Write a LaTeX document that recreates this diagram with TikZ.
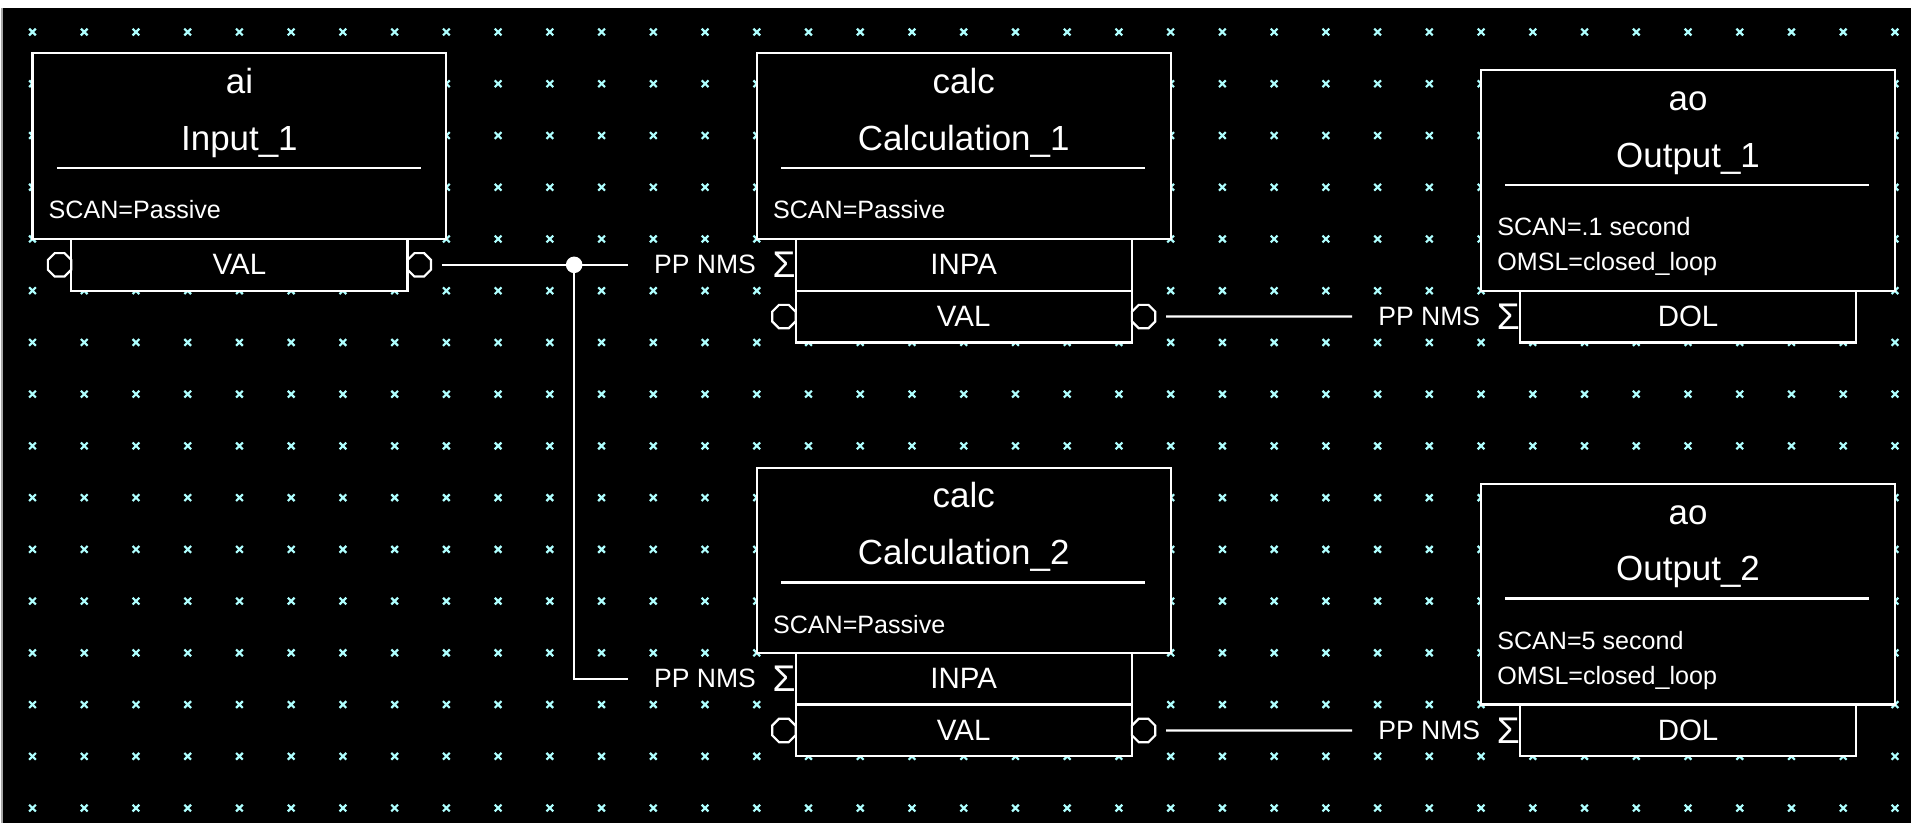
\documentclass[tikz,border=0pt]{standalone}
\usepackage{fontspec}
\setmainfont{Liberation Sans}
\usepackage{xcolor}
\usepackage{tikz}
\usetikzlibrary{positioning, shapes.geometric, calc}

\definecolor{gridmark}{RGB}{175,255,255}

\begin{document}
\begin{tikzpicture}[
    x=0.5cm, y=-0.5cm,
    every node/.style={text=white},
    recbox/.style={draw=white, fill=black, line width=0.6pt, outer sep=0pt, minimum width=4cm, anchor=south},
    fieldbox/.style={draw=white, fill=black, line width=0.6pt, outer sep=0pt, inner sep=0pt, minimum width=3.25cm, minimum height=0.5cm, font=\fontsize{8.1}{9}\selectfont},
    port/.style={regular polygon, regular polygon sides=8, draw=white, line width=0.6pt, minimum size=0.245cm, inner sep=0pt, outer sep=0pt},
    sigma/.style={font=\fontsize{10.2}{11}\selectfont, inner sep=0pt, outer sep=0pt},
    ppnms/.style={font=\fontsize{7.3}{8}\selectfont, inner sep=1pt},
    rectype/.style={font=\fontsize{9.6}{11}\selectfont, anchor=base, inner sep=0pt},
    attr/.style={font=\fontsize{6.9}{8}\selectfont, anchor=base west, inner sep=0pt},
    wire/.style={draw=white, line width=0.6pt},
    joint/.style={circle, fill=white, inner sep=0pt, minimum size=0.16cm}
  ]
  % canvas
  \useasboundingbox (-0.628,-0.619) rectangle (36.31,15.29);
  \fill[white] (-0.628,-0.619) rectangle (36.31,15.29);
  \fill[black] (-0.58,-0.464) rectangle (36.31,15.29);
  \draw[black!35, line width=0.4pt] (-0.59,-0.464) -- (-0.59,15.29);
  \foreach \gx in {0,...,36}
    \foreach \gy in {0,...,15}
      \draw[gridmark, line width=0.6pt] (\gx-0.065,\gy-0.065) -- (\gx+0.065,\gy+0.065)
        (\gx-0.065,\gy+0.065) -- (\gx+0.065,\gy-0.065);

  % ai record
  \node[recbox, minimum height=1.795cm] (in1) at (4,4) {};
  \node[rectype] (in1type) at ($(in1.north)+(0,0.78)$) {ai};
  \node[rectype] (in1name) at ($(in1.north)+(0,1.88)$) {Input\_1};
  \draw[wire] ($(in1.north west)+(0.47,2.22)$) -- ($(in1.north east)+(-0.5,2.22)$);
  \node[attr] (in1scan) at ($(in1.north west)+(0.3,3.2)$) {SCAN=Passive};
  \node[fieldbox, below=0pt of in1] (in1val) {VAL};
  \node[port, left=0pt of in1val] (in1vl) {};
  \node[port, right=0pt of in1val] (in1vr) {};

  % calc records
  \node[recbox, minimum height=1.795cm] (calc1) at (18,4) {};
  \node[rectype] (calc1type) at ($(calc1.north)+(0,0.78)$) {calc};
  \node[rectype] (calc1name) at ($(calc1.north)+(0,1.88)$) {Calculation\_1};
  \draw[wire] ($(calc1.north west)+(0.47,2.22)$) -- ($(calc1.north east)+(-0.5,2.22)$);
  \node[attr] (calc1scan) at ($(calc1.north west)+(0.3,3.2)$) {SCAN=Passive};
  \node[fieldbox, below=0pt of calc1] (calc1inpa) {INPA};
  \node[fieldbox, below=0pt of calc1inpa] (calc1val) {VAL};
  \node[sigma, left=0pt of calc1inpa] (calc1sig) {Σ};
  \node[ppnms, left=0.12cm of calc1sig] (calc1pp) {PP NMS};
  \node[port, left=0pt of calc1val] (calc1vl) {};
  \node[port, right=0pt of calc1val] (calc1vr) {};

  \node[recbox, minimum height=1.79cm] (calc2) at (18,12) {};
  \node[rectype] (calc2type) at ($(calc2.north)+(0,0.78)$) {calc};
  \node[rectype] (calc2name) at ($(calc2.north)+(0,1.88)$) {Calculation\_2};
  \draw[wire] ($(calc2.north west)+(0.47,2.22)$) -- ($(calc2.north east)+(-0.5,2.22)$);
  \node[attr] (calc2scan) at ($(calc2.north west)+(0.3,3.2)$) {SCAN=Passive};
  \node[fieldbox, below=0pt of calc2] (calc2inpa) {INPA};
  \node[fieldbox, below=0pt of calc2inpa] (calc2val) {VAL};
  \node[sigma, left=0pt of calc2inpa] (calc2sig) {Σ};
  \node[ppnms, left=0.12cm of calc2sig] (calc2pp) {PP NMS};
  \node[port, left=0pt of calc2val] (calc2vl) {};
  \node[port, right=0pt of calc2val] (calc2vr) {};

  % ao records
  \node[recbox, minimum height=2.135cm] (out1) at (32,5) {};
  \node[rectype] (out1type) at ($(out1.north)+(0,0.78)$) {ao};
  \node[rectype] (out1name) at ($(out1.north)+(0,1.88)$) {Output\_1};
  \draw[wire] ($(out1.north west)+(0.47,2.22)$) -- ($(out1.north east)+(-0.5,2.22)$);
  \node[attr] (out1scan) at ($(out1.north west)+(0.3,3.2)$) {SCAN=.1 second};
  \node[attr] (out1omsl) at ($(out1.north west)+(0.3,3.88)$) {OMSL=closed\_loop};
  \node[fieldbox, below=0pt of out1] (out1dol) {DOL};
  \node[sigma, left=0pt of out1dol] (out1sig) {Σ};
  \node[ppnms, left=0.12cm of out1sig] (out1pp) {PP NMS};

  \node[recbox, minimum height=2.135cm] (out2) at (32,13) {};
  \node[rectype] (out2type) at ($(out2.north)+(0,0.78)$) {ao};
  \node[rectype] (out2name) at ($(out2.north)+(0,1.88)$) {Output\_2};
  \draw[wire] ($(out2.north west)+(0.47,2.22)$) -- ($(out2.north east)+(-0.5,2.22)$);
  \node[attr] (out2scan) at ($(out2.north west)+(0.3,3.2)$) {SCAN=5 second};
  \node[attr] (out2omsl) at ($(out2.north west)+(0.3,3.88)$) {OMSL=closed\_loop};
  \node[fieldbox, below=0pt of out2] (out2dol) {DOL};
  \node[sigma, left=0pt of out2dol] (out2sig) {Σ};
  \node[ppnms, left=0.12cm of out2sig] (out2pp) {PP NMS};

  % links
  \node[joint] (j1) at (10.47,4.5) {};
  \draw[wire, shorten <=3pt, shorten >=6pt] (in1vr.east) -- (calc1pp.west);
  \draw[wire, shorten >=6pt] (j1.center) |- (calc2pp.west);
  \draw[wire, shorten <=3pt, shorten >=6pt] (calc1vr.east) -- (out1pp.west);
  \draw[wire, shorten <=3pt, shorten >=6pt] (calc2vr.east) -- (out2pp.west);
\end{tikzpicture}
\end{document}
